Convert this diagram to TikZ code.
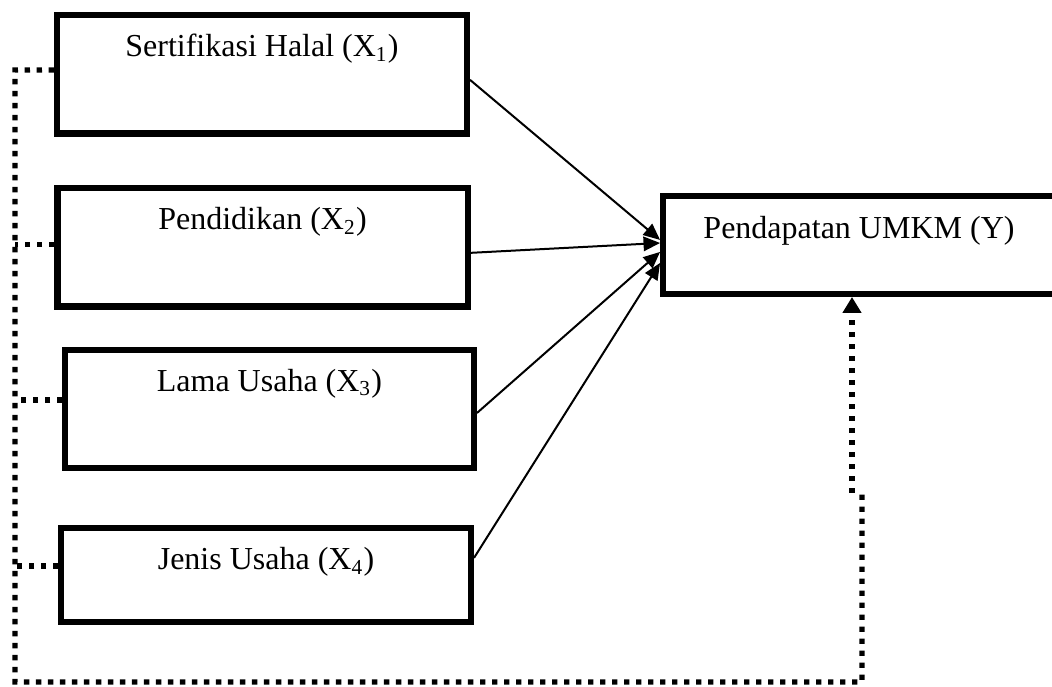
\documentclass[tikz,border=0pt]{standalone}
\usepackage{fontspec}
\setmainfont{Liberation Serif}
\usepackage{tikz}
\usetikzlibrary{calc}
\usetikzlibrary{positioning, arrows.meta}

\tikzset{
    varbox/.style={rectangle, draw, line width=2.4pt, inner sep=0pt},
    dotline/.style={line width=2pt, dash pattern=on 2pt off 2.5pt},
    effect/.style={line width=0.75pt, -{Triangle[length=6.2pt, width=5.4pt]}}
}

\begin{document}
\begin{tikzpicture}[x=0.375pt, y=-0.375pt, font=\fontsize{12}{14}\selectfont]
        \useasboundingbox (0,0) rectangle (1052,687);

        % independent variables
        \node[varbox, minimum width=153.6pt, minimum height=44.4pt, label={[name=x1text, anchor=base, yshift=-16.6pt]north:Sertifikasi Halal (X\textsubscript{1})}] (x1) at (262,74.5) {};
        \node[varbox, minimum width=153.9pt, minimum height=44.4pt, label={[name=x2text, anchor=base, yshift=-16.6pt]north:Pendidikan (X\textsubscript{2})}] (x2) at (262.5,247.5) {};
        \node[varbox, minimum width=153.2pt, minimum height=44.25pt, label={[name=x3text, anchor=base, yshift=-16.6pt]north:Lama Usaha (X\textsubscript{3})}] (x3) at (269.5,409) {};
        \node[varbox, minimum width=153.6pt, minimum height=35.1pt, label={[name=x4text, anchor=base, yshift=-16.6pt]north:Jenis Usaha (X\textsubscript{4})}] (x4) at (266,575) {};

        % dependent variable
        \node[varbox, minimum width=146.8pt, minimum height=36.6pt, label={[name=ytext, anchor=base, yshift=-17pt]north:Pendapatan UMKM (Y)}] (y) at (859,245) {};

        % partial effects
        \draw[effect] ([yshift=-2pt]x1.east) -- ([yshift=1.9pt]y.west);
        \draw[effect] ([yshift=-2pt]x2.east) -- ([yshift=0.75pt]y.west);
        \draw[effect] ([yshift=-1.5pt]x3.east) -- ([yshift=-2.6pt]y.west);
        \draw[effect] ([yshift=6.4pt]x4.east) -- ([yshift=-6.75pt]y.west);

        % simultaneous effect
        \coordinate (cornerTL) at (15,70);
        \coordinate (cornerBL) at (15,682);
        \coordinate (cornerBR) at (862,682);
        \coordinate (jogA) at (862,493);
        \coordinate (jogB) at (852,493);
        \draw[dotline] ([yshift=1.7pt]x1.west) -- (cornerTL) -- (cornerBL) -- (cornerBR) -- (jogA);
        \draw[dotline] ([yshift=1pt]x2.west) -- ([yshift=1pt]x2.west -| cornerTL);
        \draw[dotline] ([yshift=3.4pt]x3.west) -- ([yshift=3.4pt]x3.west -| cornerTL);
        \draw[dotline] ([yshift=3.4pt]x4.west) -- ([yshift=3.4pt]x4.west -| cornerTL);
        \draw[dotline, -{Triangle[length=6pt, width=6.8pt]}] (jogB) -- (jogB |- y.south);
    \end{tikzpicture}
\end{document}
